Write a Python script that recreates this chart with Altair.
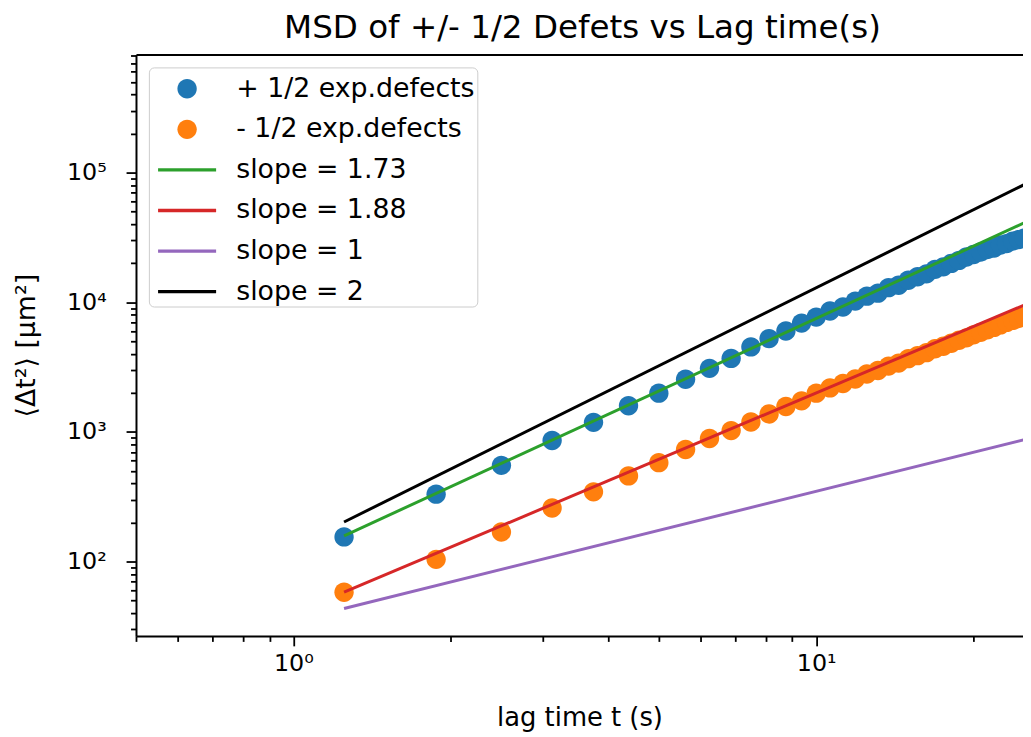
import altair as alt
import pandas as pd

# ---------------- data ----------------
lag_time = [1.25, 1.875, 2.5, 3.125, 3.75, 4.375, 5.0, 5.625, 6.25, 6.875,
            7.5, 8.125, 8.75, 9.375, 10.0, 10.625, 11.25, 11.875, 12.5, 13.125,
            13.75, 14.375, 15.0, 15.625, 16.25, 16.875, 17.5, 18.125, 18.75,
            19.375, 20.0, 20.625, 21.25, 21.875, 22.5, 23.125, 23.75, 24.375, 25.0]

msd_plus = [155, 331, 552, 858, 1186, 1590, 1991, 2548, 3093, 3686,
            4522, 5244, 5999, 6906, 7678, 8557, 9183, 10207, 11147, 11751,
            12950, 13532, 14775, 15722, 16572, 17942, 18750, 19936, 21016,
            22350, 23364, 24413, 25510, 26193, 27620, 28355, 29635, 30430, 31250]

msd_minus = [58, 104, 169, 259, 345, 458, 579, 732, 889, 1024,
             1193, 1374, 1571, 1737, 1989, 2184, 2364, 2559, 2795, 2974,
             3218, 3393, 3673, 3873, 4082, 4380, 4578, 4826, 5088,
             5317, 5606, 5858, 6124, 6399, 6687, 6988, 7240, 7499, 7768]

fit_x = [1.25, 25.0]
fit_green = [158, 41000]
fit_red = [58, 9510]
fit_purple = [43.5, 870]
fit_black = [202, 80800]

series_names = ["+ 1/2 exp.defects", "- 1/2 exp.defects",
                "slope = 1.73", "slope = 1.88", "slope = 1", "slope = 2"]
series_colors = ["#1f77b4", "#ff7f0e", "#2ca02c", "#d62728", "#9467bd", "#000000"]

x_ticks = [0.5, 0.6, 0.7, 0.8, 0.9, 1, 2, 3, 4, 5, 6, 7, 8, 9, 10, 20]
y_ticks = [30, 40, 50, 60, 70, 80, 90,
           100, 200, 300, 400, 500, 600, 700, 800, 900,
           1000, 2000, 3000, 4000, 5000, 6000, 7000, 8000, 9000,
           10000, 20000, 30000, 40000, 50000, 60000, 70000, 80000, 90000,
           100000, 200000, 300000, 400000, 500000, 600000, 700000, 800000]

x_domain = [0.5, 24.86]
y_domain = [26.7, 814000]

# ---------------- tables ----------------
pts = pd.DataFrame({
    "lag": lag_time + lag_time,
    "msd": msd_plus + msd_minus,
    "series": [series_names[0]] * len(lag_time) + [series_names[1]] * len(lag_time),
})

fits = []
for name, ys in zip(series_names[2:], [fit_green, fit_red, fit_purple, fit_black]):
    for xv, yv in zip(fit_x, ys):
        fits.append({"lag": xv, "msd": yv, "series": name})
fits = pd.DataFrame(fits)

# ---------------- styling helpers ----------------
FONT = "DejaVu Sans"
is_major = "abs(log(datum.value)/LN10 - round(log(datum.value)/LN10)) < 1e-6"
sup = "['\u2070','\u00b9','\u00b2','\u00b3','\u2074','\u2075','\u2076'][round(log(datum.value)/LN10)]"
label_expr = f"({is_major}) ? '10' + {sup} : ''"
tick_size = {"condition": {"test": is_major, "value": 10}, "value": 5.5}

x_scale = alt.Scale(type="log", domain=x_domain, nice=False, zero=False)
y_scale = alt.Scale(type="log", domain=y_domain, nice=False, zero=False)

color_scale = alt.Scale(domain=series_names, range=series_colors)
circle_path = "M-0.5,0A0.5,0.5,0,1,0,0.5,0A0.5,0.5,0,1,0,-0.5,0Z"
line_path = "M-1.5,-0.085H1.5V0.085H-1.5Z"
shape_scale = alt.Scale(domain=series_names,
                        range=[circle_path, circle_path, line_path, line_path, line_path, line_path])

x_axis = alt.Axis(
    orient="bottom", values=x_ticks, labelExpr=label_expr, tickSize=tick_size,
    tickWidth=1.8, tickColor="black", domainColor="black", domainWidth=2,
    labelFont=FONT, labelFontSize=24, labelColor="black", labelPadding=6,
    labelOverlap=False, labelFlush=False, grid=False,
    title="lag time t (s)", titleFont=FONT, titleFontSize=26, titleFontWeight="normal",
    titleColor="black", titlePadding=29,
)
y_axis = alt.Axis(
    orient="left", values=y_ticks, labelExpr=label_expr, tickSize=tick_size,
    tickWidth=1.8, tickColor="black", domainColor="black", domainWidth=2,
    labelFont=FONT, labelFontSize=24, labelColor="black", labelPadding=20,
    labelOverlap=False, labelFlush=False, grid=False,
    title="\u27e8\u0394t\u00b2\u27e9 [\u03bcm\u00b2]", titleFont=FONT, titleFontSize=27,
    titleFontWeight="normal", titleColor="black", titlePadding=26,
)
top_axis = alt.Axis(orient="top", labels=False, ticks=False, domain=True,
                    domainColor="black", domainWidth=2, grid=False, title=None)

legend = alt.Legend(
    title=None, orient="none", legendX=13, legendY=13,
    symbolSize=1521, symbolOffset=17, symbolStrokeWidth=0,
    labelOffset=30, labelLimit=500, labelFont=FONT, labelFontSize=27, labelColor="black",
    fillColor="rgba(255,255,255,0.8)", strokeColor="#cccccc", cornerRadius=5,
    padding=2, rowPadding=7.9,
)

points = alt.Chart(pts).mark_point(filled=True, opacity=1, size=1521, clip=True).encode(
    x=alt.X("lag:Q", scale=x_scale, axis=x_axis),
    y=alt.Y("msd:Q", scale=y_scale, axis=y_axis),
    color=alt.Color("series:N", scale=color_scale, legend=legend),
    shape=alt.Shape("series:N", scale=shape_scale, legend=legend),
)

lines = alt.Chart(fits).mark_line(strokeWidth=3, clip=True).encode(
    x=alt.X("lag:Q", scale=x_scale, axis=top_axis),
    y=alt.Y("msd:Q", scale=y_scale, axis=y_axis),
    color=alt.Color("series:N", scale=color_scale, legend=None),
    detail="series:N",
)

chart = alt.layer(points, lines).resolve_axis(x="independent").properties(
    width=894, height=586,
    title=alt.TitleParams("MSD of +/- 1/2 Defets vs Lag time(s)", font=FONT, fontSize=32.8,
                          fontWeight="normal", color="black", anchor="middle", offset=1,
                          dx=3, dy=2),
    autosize=alt.AutoSizeParams(type="none"),
    padding={"left": 129, "top": 44, "right": 0, "bottom": 100},
).configure_view(strokeWidth=0).configure(background="white")

chart.save("out.html", embed_options={"renderer": "svg", "actions": False})
